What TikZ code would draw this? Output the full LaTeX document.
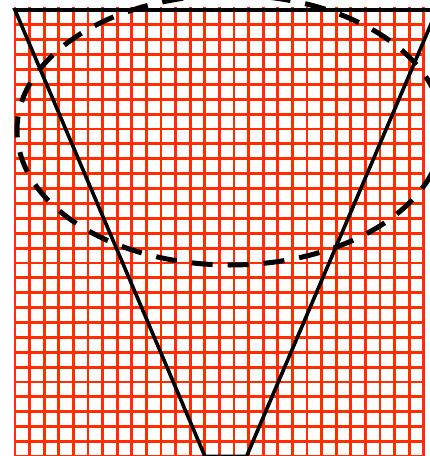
\documentclass[tikz,border=0pt]{standalone}
\definecolor{gridred}{RGB}{255,45,0}
\begin{document}
\begin{tikzpicture}[x=1pt,y=-1pt,
  gridline/.style={draw=gridred, line width=2.9pt},
  outline/.style={draw=black, line width=3.6pt, line join=miter},
  ring/.style={draw=black, line width=5pt, dash pattern=on 21pt off 15pt}]
\useasboundingbox (0,0) rectangle (430,456);
\begin{scope}
\clip (0,0) rectangle (430,456);
\foreach \i in {0,...,28} \draw[gridline] ({15+14.6*\i},7) -- ({15+14.6*\i},460);
\foreach \j in {0,...,30} \draw[gridline] (13.6,{10+14.88*\j}) -- (425.2,{10+14.88*\j});
\draw[outline] (15,10) -- (437,10) -- (246.5,456.5) -- (205,456.5) -- cycle;
\draw[ring] (230,130) ellipse [x radius=213pt, y radius=135pt];
\end{scope}
\end{tikzpicture}
\end{document}
